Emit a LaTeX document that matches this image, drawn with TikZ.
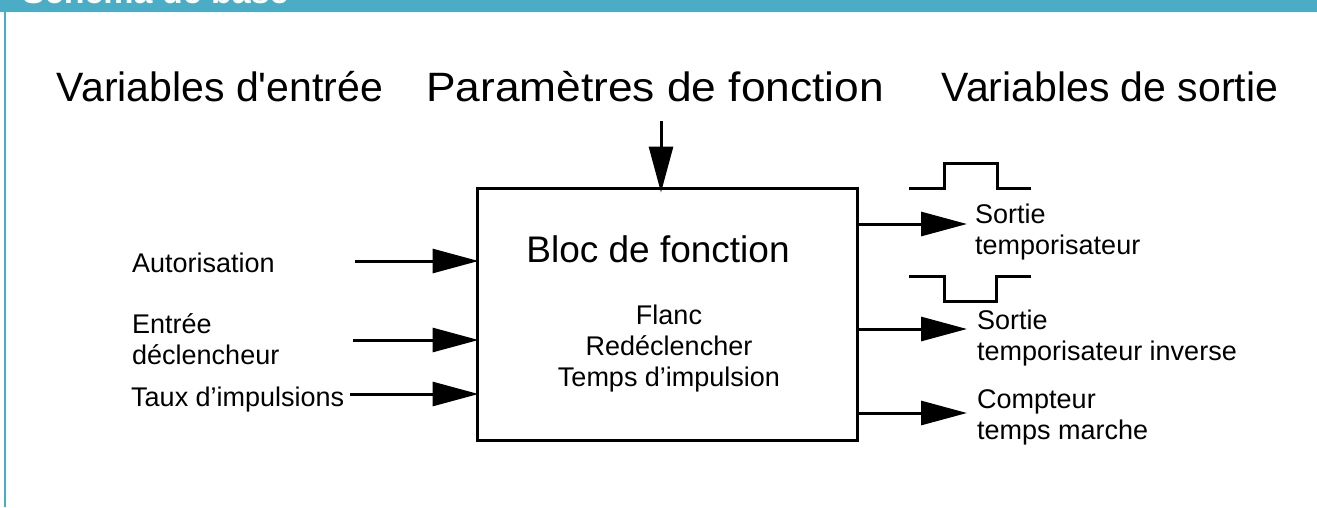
\documentclass[tikz,border=0pt]{standalone}
\usepackage{fontspec}
\usepackage{graphicx}
\setmainfont{Liberation Sans}[Ligatures=TeXOff]
\usetikzlibrary{arrows.meta,calc}
\definecolor{hdr}{RGB}{75,172,198}
\begin{document}
\begin{tikzpicture}[x=1pt,y=-1pt,
  lbl/.style={inner sep=0pt, font=\fontsize{27}{31}\selectfont, align=left},
  ttl/.style={inner sep=0pt, font=\fontsize{41}{48}\selectfont},
  conn/.style={line width=3pt, -{Triangle[length=46pt,width=24pt]}},
  wave/.style={line width=3pt, line join=miter}
]
\useasboundingbox (0,0) rectangle (1317,507);
% header
\fill[hdr] (0,0) rectangle (1317,12);
\begin{scope}
  \clip (0,0) rectangle (1317,12);
  \node[anchor=base west, inner sep=0pt, text=white,
        font=\bfseries\fontsize{34}{40}\selectfont] (hdrtxt) at (22,3) {Schéma de base};
\end{scope}
\fill[hdr] (4,12) rectangle (6,507);

% titles
\node[ttl, anchor=base] (tin)  at (220,101) {Variables d'entrée};
\node[ttl, anchor=base] (tpar) at (655,101) {\scalebox{1.08}[1]{Paramètres de fonction}};
\node[ttl, anchor=base] (tout) at (1110,101) {Variables de sortie};

% block
\node[draw, line width=3pt, minimum width=380pt, minimum height=252pt, inner sep=0pt] (blk) at (667,314) {};
\node[anchor=base, inner sep=0pt, font=\fontsize{37}{44}\selectfont] (blktxt) at (658,262) {Bloc de fonction};
\node[lbl, align=center, anchor=base] (blkpar) at (669,386) {Flanc\\Redéclencher\\Temps d’impulsion};

% inputs
\node[lbl, anchor=base west] (iaut) at (132,272) {Autorisation};
\node[lbl, anchor=base west] (idec) at (132,364) {Entrée\\déclencheur};
\node[lbl, anchor=base west] (itau) at (131,406) {Taux d’impulsions};
\coordinate (a1) at (355,261);
\coordinate (a2) at (353,340);
\coordinate (a3) at (350,394);
\draw[conn] (a1) -- ($(a1 -| blk.west)+(3,0)$);
\draw[conn] (a2) -- ($(a2 -| blk.west)+(3,0)$);
\draw[conn] (a3) -- ($(a3 -| blk.west)+(3,0)$);

% parameters arrow
\coordinate (p0) at (661,121);
\draw[conn] (p0) -- ($(p0 |- blk.north)+(0,6)$);

% outputs
\coordinate (o1) at (967,224);
\coordinate (o2) at (967,329);
\coordinate (o3) at (967,413);
\draw[conn] (blk.east |- o1) -- (o1);
\draw[conn] (blk.east |- o2) -- (o2);
\draw[conn] (blk.east |- o3) -- (o3);
\node[lbl, anchor=base west] (lo1) at (975,254) {Sortie\\temporisateur};
\node[lbl, anchor=base west] (lo2) at (977,360) {Sortie\\temporisateur inverse};
\node[lbl, anchor=base west] (lo3) at (977,439) {Compteur\\temps marche};

% pulse shapes
\draw[wave] (909,188) -- (944,188) -- (944,163) -- (997,163) -- (997,188) -- (1031,188);
\draw[wave] (909,276) -- (944,276) -- (944,301) -- (996,301) -- (996,276) -- (1031,276);
\end{tikzpicture}
\end{document}
